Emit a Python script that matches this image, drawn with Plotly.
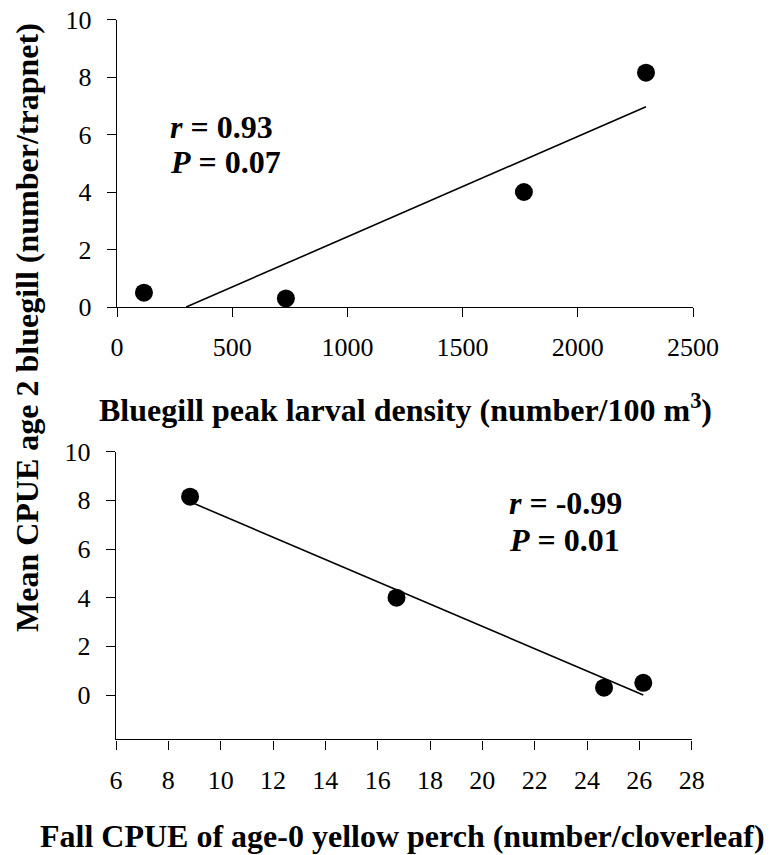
import numpy as np
import plotly.graph_objects as go

# Data
cpue_age2 = [0.5, 0.3, 4.0, 8.15]            # Mean CPUE age 2 bluegill
larval_density = [117, 733, 1766, 2296]       # Bluegill peak larval density
perch_cpue = [26.15, 24.65, 16.72, 8.83]      # Fall CPUE of age-0 yellow perch

top_xticks = [0, 500, 1000, 1500, 2000, 2500]
bottom_xticks = [6, 8, 10, 12, 14, 16, 18, 20, 22, 24, 26, 28]
yticks = [0, 2, 4, 6, 8, 10]

W, H = 771, 855
FONT = "Liberation Serif, Times New Roman, serif"

# regression lines
a1, b1 = np.polyfit(larval_density, cpue_age2, 1)
x1 = np.array([-b1 / a1, max(larval_density)])
y1 = a1 * x1 + b1
a2, b2 = np.polyfit(perch_cpue, cpue_age2, 1)
x2 = np.array([min(perch_cpue), max(perch_cpue)])
y2 = a2 * x2 + b2

fig = go.Figure()
fig.add_trace(go.Scatter(x=x1, y=y1, mode="lines", line=dict(color="black", width=1.6),
                         xaxis="x", yaxis="y", showlegend=False, hoverinfo="skip"))
fig.add_trace(go.Scatter(x=larval_density, y=cpue_age2, mode="markers",
                         marker=dict(color="black", size=18), xaxis="x", yaxis="y", showlegend=False))
fig.add_trace(go.Scatter(x=x2, y=y2, mode="lines", line=dict(color="black", width=1.6),
                         xaxis="x2", yaxis="y2", showlegend=False, hoverinfo="skip"))
fig.add_trace(go.Scatter(x=perch_cpue, y=cpue_age2, mode="markers",
                         marker=dict(color="black", size=18), xaxis="x2", yaxis="y2", showlegend=False))

def px_x(p):
    return p / W

def px_y(p):
    return 1 - p / H

axis_common = dict(showline=True, linecolor="black", linewidth=1.4, ticks="outside",
                   ticklen=9, tickwidth=1.4, tickcolor="black", showgrid=False, zeroline=False,
                   automargin=False,
                   tickfont=dict(family=FONT, size=26, color="black"))

fig.update_layout(
    width=W, height=H,
    margin=dict(l=0, r=0, t=0, b=0, autoexpand=False),
    paper_bgcolor="white", plot_bgcolor="white",
    xaxis=dict(domain=[px_x(117), px_x(693)], range=[0, 2500], tickvals=top_xticks,
               anchor="y", ticklabelstandoff=8, **axis_common),
    yaxis=dict(domain=[px_y(307), px_y(19.5)], range=[0, 10], tickvals=yticks,
               anchor="x", ticklabelstandoff=10, **axis_common),
    xaxis2=dict(domain=[px_x(116), px_x(691.7)], range=[6, 28], tickvals=bottom_xticks,
                anchor="y2", ticklabelstandoff=8, **axis_common),
    yaxis2=dict(domain=[px_y(739.3), px_y(451.7)], range=[-1.82, 10], tickvals=yticks,
                anchor="x2", ticklabelstandoff=10, **axis_common),
)

ann_font = dict(family=FONT, size=32, color="black")
title_font = dict(family=FONT, size=32, color="black")
annotations = [
    dict(text="<b><i>r</i> = 0.93</b>", x=221, y=6.26, xref="x", yref="y",
         xanchor="left", yanchor="middle", showarrow=False, font=ann_font),
    dict(text="<b><i>P</i> = 0.07</b>", x=221, y=5.04, xref="x", yref="y",
         xanchor="left", yanchor="middle", showarrow=False, font=ann_font),
    dict(text="<b><i>r</i> = -0.99</b>", x=20.94, y=7.89, xref="x2", yref="y2",
         xanchor="left", yanchor="middle", showarrow=False, font=ann_font),
    dict(text="<b><i>P</i> = 0.01</b>", x=20.94, y=6.37, xref="x2", yref="y2",
         xanchor="left", yanchor="middle", showarrow=False, font=ann_font),
    dict(text="<b>Bluegill peak larval density (number/100 m<sup>3</sup>)</b>",
         x=px_x(405), y=px_y(408), xref="paper", yref="paper",
         xanchor="center", yanchor="middle", showarrow=False, font=title_font),
    dict(text="<b>Fall CPUE of age-0 yellow perch (number/cloverleaf)</b>",
         x=px_x(402), y=px_y(836), xref="paper", yref="paper",
         xanchor="center", yanchor="middle", showarrow=False, font=title_font),
    dict(text="<b>Mean CPUE age 2 bluegill (number/trapnet)</b>",
         x=px_x(27), y=px_y(328), xref="paper", yref="paper", textangle=-90,
         xanchor="center", yanchor="middle", showarrow=False, font=title_font),
]
fig.update_layout(annotations=annotations)

fig.write_html("out.html")
